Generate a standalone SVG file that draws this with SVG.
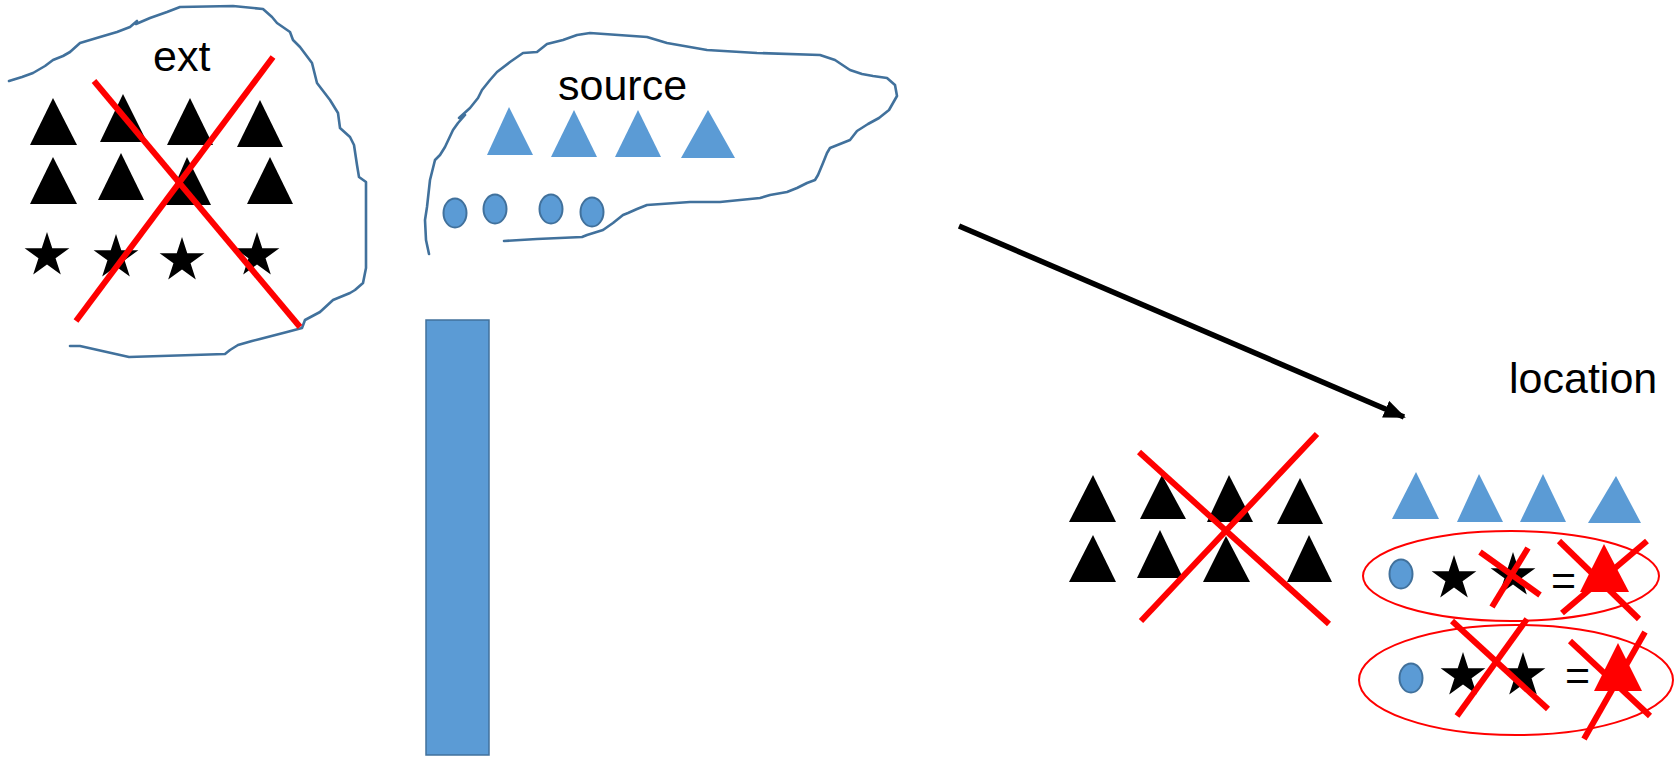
<svg xmlns="http://www.w3.org/2000/svg" width="1680" height="760" viewBox="0 0 1680 760">
<style>
.blob{fill:none;stroke:#41719C;stroke-width:2.6;stroke-linejoin:round;stroke-linecap:round}
.tk{fill:#000}
.tb{fill:#5B9BD5}
.tr{fill:#FF0000}
.dot{fill:#5B9BD5;stroke:#41719C;stroke-width:2}
.x{stroke:#FF0000;stroke-width:6;fill:none}
.ring{fill:none;stroke:#FF0000;stroke-width:2}
.lbl{font-family:"Liberation Sans",Arial,sans-serif;font-size:43px;fill:#000}
</style>
<defs>
<polygon id="star" points="0,-23.5 5.28,-7.26 22.35,-7.26 8.54,2.77 13.81,19.01 0,8.98 -13.81,19.01 -8.54,2.77 -22.35,-7.26 -5.28,-7.26"/>
<marker id="ah" markerUnits="userSpaceOnUse" markerWidth="24" markerHeight="20" refX="20" refY="9" orient="auto">
<path d="M0,0 L22,9 L0,18 z" fill="#000"/>
</marker>
</defs>
<rect width="1680" height="760" fill="#fff"/>

<g id="ext">
<path class="blob" d="M9,81 L22,77 L33,73 L45,66 L53,60 L63,56 L70,52 L80,43 L100,37 L117,32 L130,27 L137,21 L136,24 L150,18 L167,12 L180,7 L233,6 L263,9 L272,17 L277,23 L290,32 L293,40 L300,47 L312,63 L317,83 L330,100 L338,113 L340,128 L350,137 L354,145 L357,165 L359,177 L366,182 L366,268 L363,283 L355,290 L350,293 L333,300 L320,312 L305,320 L302,328 L287,332 L260,339 L252,341 L238,345 L230,350 L225,354 L129,357 L80,346 L70,346"/>
<text class="lbl" x="153" y="71">ext</text>
<polygon class="tk" points="53,98 77,145 30,145"/>
<polygon class="tk" points="123,94 147,142 100,142"/>
<polygon class="tk" points="190,98 213,145 167,145"/>
<polygon class="tk" points="260,100 283,147 237,147"/>
<polygon class="tk" points="53,157 77,204 30,204"/>
<polygon class="tk" points="121,153 144,200 98,200"/>
<polygon class="tk" points="187,157 211,205 166,205"/>
<polygon class="tk" points="270,157 293,204 247,204"/>
<use href="#star" x="47" y="255.5"/>
<use href="#star" x="116" y="257.5"/>
<use href="#star" x="182" y="260.5"/>
<use href="#star" x="257" y="255.5"/>
<line class="x" x1="94" y1="81" x2="300" y2="327"/>
<line class="x" x1="273" y1="57" x2="76" y2="321"/>
</g>

<g id="source">
<path class="blob" d="M429,254 L426,240 L425,220 L427,207 L430,180 L435,160 L440,155 L445,147 L453,130 L458,123 L465,115 L459,118 L470,108 L478,98 L482,90 L490,80 L497,72 L510,62 L523,53 L537,52 L547,44 L563,40 L577,35 L590,33 L647,37 L667,43 L707,50 L757,53 L820,55 L835,60 L850,70 L862,74 L873,76 L887,78 L895,85 L897,96 L889,110 L879,118 L868,124 L857,131 L850,140 L830,148 L827,153 L823,163 L818,175 L815,180 L807,183 L797,188 L787,192 L770,195 L760,198 L720,202 L690,202 L647,205 L637,209 L628,213 L623,215 L613,223 L603,230 L587,235 L582,237 L537,239 L504,241"/>
<text class="lbl" x="558" y="100">source</text>
<polygon class="tb" points="509,107 533,155 487,155"/>
<polygon class="tb" points="574,110 597,157 551,157"/>
<polygon class="tb" points="638,110 661,157 615,157"/>
<polygon class="tb" points="708,110 735,158 681,158"/>
<ellipse class="dot" cx="455" cy="213" rx="11.5" ry="14.5"/>
<ellipse class="dot" cx="495" cy="209" rx="11.5" ry="14.5"/>
<ellipse class="dot" cx="551" cy="209" rx="11.5" ry="14.5"/>
<ellipse class="dot" cx="592" cy="212" rx="11.5" ry="14.5"/>
</g>

<g id="bar">
<rect x="426" y="320" width="63" height="435" fill="#5B9BD5" stroke="#41719C" stroke-width="1.5"/>
</g>

<g id="connectors">
<line x1="959" y1="226" x2="1404" y2="417" stroke="#000" stroke-width="5.5" marker-end="url(#ah)"/>
</g>

<g id="location">
<text class="lbl" x="1509" y="393">location</text>
<polygon class="tk" points="1093,475 1116,522 1069,522"/>
<polygon class="tk" points="1162,475 1186,519 1140,519"/>
<polygon class="tk" points="1229,475 1253,522 1207,522"/>
<polygon class="tk" points="1300,478 1323,524 1277,524"/>
<polygon class="tk" points="1093,535 1116,582 1069,582"/>
<polygon class="tk" points="1160,530 1183,578 1137,578"/>
<polygon class="tk" points="1226,536 1250,582 1203,582"/>
<polygon class="tk" points="1309,535 1332,582 1287,582"/>
<line class="x" x1="1139" y1="452" x2="1329" y2="624"/>
<line class="x" x1="1317" y1="434" x2="1141" y2="621"/>
<polygon class="tb" points="1416,472 1439,519 1392,519"/>
<polygon class="tb" points="1479,474 1503,522 1457,522"/>
<polygon class="tb" points="1543,474 1566,522 1520,522"/>
<polygon class="tb" points="1616,476 1641,523 1588,523"/>
</g>

<g id="combo1">
<ellipse class="ring" cx="1511" cy="576" rx="148" ry="45"/>
<ellipse class="dot" cx="1401" cy="574" rx="11.5" ry="14.5"/>
<use href="#star" x="1454" y="578.5"/>
<use href="#star" x="1513" y="575.5"/>
<line class="x" x1="1480" y1="552" x2="1540" y2="595"/>
<line class="x" x1="1528" y1="548" x2="1492" y2="607"/>
<text class="lbl" x="1551" y="595">=</text>
<polygon class="tr" points="1604,544 1629,592 1580,592"/>
<line class="x" x1="1559" y1="541" x2="1639" y2="619"/>
<line class="x" x1="1647" y1="541" x2="1562" y2="613"/>
</g>

<g id="combo2">
<ellipse class="ring" cx="1516" cy="680" rx="157" ry="55"/>
<ellipse class="dot" cx="1411" cy="678" rx="11.5" ry="14.5"/>
<use href="#star" x="1463" y="675.5"/>
<use href="#star" x="1523" y="675.5"/>
<line class="x" x1="1452" y1="621" x2="1548" y2="709"/>
<line class="x" x1="1527" y1="619" x2="1457" y2="716"/>
<text class="lbl" x="1565" y="690">=</text>
<polygon class="tr" points="1618,643 1642,691 1594,691"/>
<line class="x" x1="1570" y1="641" x2="1650" y2="716"/>
<line class="x" x1="1645" y1="632" x2="1584" y2="739"/>
</g>
</svg>
